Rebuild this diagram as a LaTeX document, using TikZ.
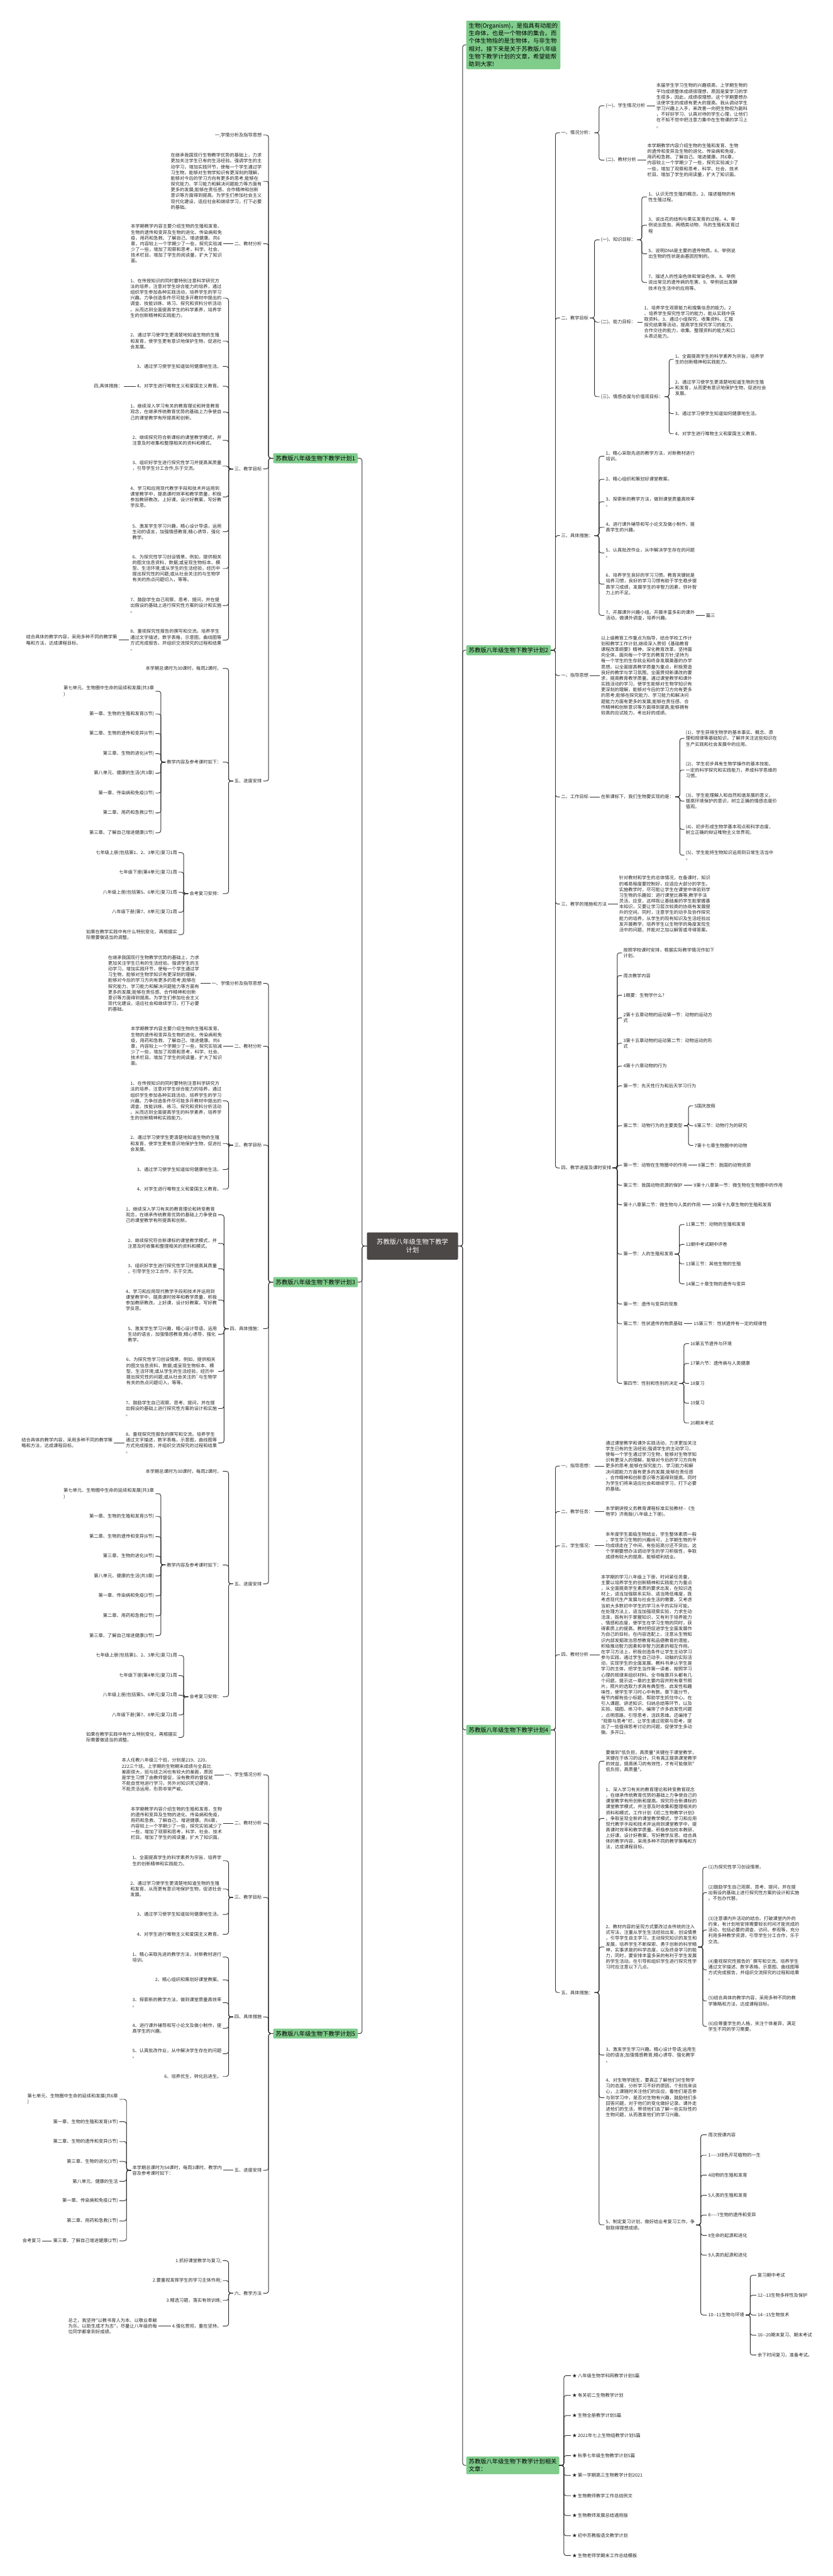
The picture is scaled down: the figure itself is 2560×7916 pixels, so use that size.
\documentclass[tikz,border=0pt]{standalone}
\usepackage{fontspec}
\newfontfamily\cjk{Noto Sans CJK SC}
\usetikzlibrary{positioning}

\definecolor{leafgreen}{RGB}{127,204,139}
\definecolor{rootgray}{RGB}{77,72,72}
\definecolor{inkgray}{RGB}{38,38,38}
\definecolor{linegray}{RGB}{51,51,51}

\tikzset{
    topic/.style = {
        rectangle,
        rounded corners=4pt,
        fill=leafgreen,
        text=black,
        font=\cjk\fontsize{18}{23.7}\selectfont,
        inner xsep=8pt,
        inner ysep=7pt,
        align=left,
        anchor=west
    },
    ltopic/.style = {
        topic,
        anchor=east
    },
    centre/.style = {
        rectangle,
        rounded corners=4pt,
        fill=rootgray,
        text=white,
        font=\cjk\fontsize{20}{25}\selectfont,
        align=center,
        minimum width=280pt,
        minimum height=84pt
    },
    ritem/.style = {
        font=\cjk\fontsize{14}{17.7}\selectfont,
        text=inkgray,
        inner xsep=4pt,
        inner ysep=1pt,
        align=left,
        anchor=west
    },
    litem/.style = {
        ritem,
        anchor=east
    },
    conn/.style = {
        draw=linegray,
        line width=1.8pt,
        rounded corners=7pt
    }
}

\begin{document}
\begin{tikzpicture}[x=1pt, y=-1pt]

\fill[white] (0,0) rectangle (2560,7916);
\useasboundingbox (0,0) rectangle (2560,7916);

\node[centre] (root) at (1268,3829) {苏教版八年级生物下教学\\计划};

% right side
\node[topic] (intro) at (1433,138) {生物(Organism)，是指具有动能的\\生命体，也是一个物体的集合。而\\个体生物指的是生物体，与非生物\\相对。接下来是关于苏教版八年级\\生物下教学计划的文章，希望能帮\\助到大家!};
\node[topic] (planB) at (1433,1998) {苏教版八年级生物下教学计划2};
\node[topic] (planD) at (1433,5316) {苏教版八年级生物下教学计划4};
\node[topic] (related) at (1433,7576) {苏教版八年级生物下教学计划相关\\文章：};

% plan 2
\node[ritem] (b1) at (1721,408) {一、情况分析：};
\node[ritem] (b1a) at (1858,325) {(一)、学生情况分析};
\node[ritem, right=26pt of b1a] (b1at) {本届学生学习生物的兴趣很高，上学期生物的\\平均成绩整体成绩很理想，原因是爱学习的学\\生很多，因此，成绩很理想。这个学期要想办\\法使学生的成绩有更大的提高。我从调动学生\\学习兴趣上入手，来改善一向把生物视为副科\\，不好好学习、认真对待的学生心理，让他们\\在不知不觉中把注意力集中在生物课的学习上\\。};
\node[ritem] (b1b) at (1858,492) {(二)、教材分析};
\node[ritem, right=26pt of b1b] (b1bt) {本学期教学内容介绍生物的生殖和发育、生物\\的遗传和变异及生物的进化、传染病和免疫，\\用药和急救、了解自己、增进健康。共6章，\\内容较上一个学期少了一些，探究实验减少了\\一些，增加了观察和思考，科学、社会、技术\\栏目。增加了学生的阅读量，扩大了知识面。};

\node[ritem] (b2) at (1721,977) {二、教学目标};
\node[ritem] (b2a) at (1843,737) {(一)、知识目标：};
\node[ritem] (b2a1) at (1989,605) {1、认识无性生殖的概念。2、描述植物的有\\性生殖过程。};
\node[ritem] (b2a2) at (1989,692) {3、说出花的结构与果实发育的过程。4、举\\例说出昆虫、两栖类动物、鸟的生殖和发育过\\程};
\node[ritem] (b2a3) at (1989,780) {5、说明DNA是主要的遗传物质。6、举例说\\出生物的性状是由基因控制的。};
\node[ritem] (b2a4) at (1989,868) {7、描述人的性染色体和常染色体。8、举例\\说出常见的遗传病的危害。9、举例说出发酵\\技术在生活中的应用等。};
\node[ritem] (b2b) at (1843,990) {(二)、能力目标：};
\node[ritem, right=17pt of b2b] (b2bt) {1、培养学生观察能力和搜集信息的能力。2\\、培养学生探究性学习的能力，能从实践中获\\取资料。3、通过小组探究、收集资料、汇报\\探究结果等活动，提高学生探究学习的能力，\\合作交往的能力，收集、整理资料的能力和口\\头表达能力。};
\node[ritem] (b2c) at (1843,1219) {(三)、情感态度与价值观目标：};
\node[ritem] (b2c1) at (2071,1104) {1、全面提高学生的科学素养为宗旨，培养学\\生的创新精神和实践能力。};
\node[ritem] (b2c2) at (2071,1192) {2、通过学习使学生更清楚地知道生物的生殖\\和发育，从而更有意识地保护生物，促进社会\\发展。};
\node[ritem] (b2c3) at (2071,1271) {3、通过学习使学生知道如何健康地生活。};
\node[ritem] (b2c4) at (2071,1333) {4、对学生进行唯物主义和爱国主义教育。};

\node[ritem] (b3) at (1721,1646) {三、具体措施：};
\node[ritem] (b3i1) at (1858,1402) {1、精心采取先进的教学方法，对新教材进行\\培训。};
\node[ritem] (b3i2) at (1858,1473) {2、精心组织和策划好课堂教案。};
\node[ritem] (b3i3) at (1858,1542) {3、探索新的教学方法，做到课堂质量高效率\\。};
\node[ritem] (b3i4) at (1858,1620) {4、进行课外辅导和写小论文及做小制作，提\\高学生的兴趣。};
\node[ritem] (b3i5) at (1858,1699) {5、认真批改作业，从中解决学生存在的问题\\。};
\node[ritem] (b3i6) at (1858,1795) {6、培养学生良好的学习习惯。教育关键就是\\培养习惯，良好的学习习惯有助于学生稳步提\\高学习成绩，发展学生的非智力因素，弥补智\\力上的不足。};
\node[ritem] (b3i7) at (1858,1891) {7、开展课外兴趣小组。开展丰富多彩的课外\\活动，做课外调查，培养兴趣。};
\node[ritem, right=26pt of b3i7] (b3x) {篇三};

\node[ritem] (b4) at (1721,2076) {一、指导思想};
\node[ritem, right=30pt of b4] (b4t) {以上级教育工作重点为指导，结合学校工作计\\划和教学工作计划,继续深入贯彻《基础教育\\课程改革纲要》精神，深化教育改革，坚持面\\向全体，面向每一个学生的教育方针;坚持为\\每一个学生的生存就业和终身发展奠基的办学\\思想。以全面提高教学质量为重点，积极营造\\良好的教学与学习氛围，全面贯彻新课改的要\\求，提高教育教学质量。通过课堂教学和课外\\实践活动的学习，使学生能够对生物学知识有\\更深刻的理解，能够对今后的学习方向有更多\\的思考;能够在探究能力、学习能力和解决问\\题能力方面有更多的发展;能够在责任感、合\\作精神和创新意识等方面得到提高;能够拥有\\较高的应试能力，考出好的成绩。};

\node[ritem] (b5) at (1721,2449) {二、工作目标};
\node[ritem, right=30pt of b5] (b5a) {在新课标下，我们生物要实现的是：};
\node[ritem] (b5a1) at (2104,2269) {(1)、学生获得生物学的基本事实、概念、原\\理和规律等基础知识，了解并关注这些知识在\\生产实践和社会发展中的应用。};
\node[ritem] (b5a2) at (2104,2366) {(2)、学生初步具有生物学操作的基本技能、\\一定的科学探究和实践能力，养成科学思维的\\习惯。};
\node[ritem] (b5a3) at (2104,2462) {(3)、学生能理解人和自然和谐发展的意义，\\提高环境保护的意识，树立正确的情感态度价\\值观。};
\node[ritem] (b5a4) at (2104,2549) {(4)、初步形成生物学基本观点和科学态度，\\树立正确的辩证唯物主义世界观。};
\node[ritem] (b5a5) at (2104,2628) {(5)、学生能将生物知识运用到日常生活当中\\。};

\node[ritem] (b6) at (1721,2778) {三、教学的措施和方法};
\node[ritem, right=30pt of b6] (b6t) {针对教材和学生的总体情况，在备课时，知识\\的难易程度要控制好，应适应大部分的学生。\\实施教学时，尽可能让学生在课堂中体验到学\\习生物的乐趣如：进行课堂比赛等;教学手法\\灵活、应变，这样既让基础差的学生能掌握基\\本知识，又要让学习层次较高的协商有发展提\\升的空间。同时，注意学生的动手及协作探究\\能力的培养，从学生的现有知识及生活经验出\\发开展教学，培养学生以生物学的角度发现生\\活中的问题，并能对之加以解答或寻得答案。};

\node[ritem] (b7) at (1721,3589) {四、教学进度及课时安排};
\node[ritem] (b7i1) at (1912,2928) {按照学校课时安排，根据实际教学情况作如下\\计划。};
\node[ritem] (b7i2) at (1912,2998) {周次教学内容};
\node[ritem] (b7i3) at (1912,3058) {1概要：生物学什么?};
\node[ritem] (b7i4) at (1912,3128) {2第十五章动物的运动第一节：动物的运动方\\式};
\node[ritem] (b7i5) at (1912,3206) {3第十五章动物的运动第二节：动物运动的形\\式};
\node[ritem] (b7i6) at (1912,3276) {4第十六章动物的行为};
\node[ritem] (b7i7) at (1912,3337) {第一节：先天性行为和后天学习行为};
\node[ritem] (b7i8) at (1912,3459) {第二节：动物行为的主要类型};
\node[ritem] (b7s1) at (2131,3398) {5国庆放假};
\node[ritem] (b7s2) at (2131,3459) {6第三节：动物行为的研究};
\node[ritem] (b7s3) at (2131,3520) {7第十七章生物圈中的动物};
\node[ritem] (b7i9) at (1912,3581) {第一节：动物在生物圈中的作用};
\node[ritem, right=26pt of b7i9] (b7i9t) {8第二节：我国的动物资源};
\node[ritem] (b7i10) at (1912,3642) {第三节：我国动物资源的保护};
\node[ritem, right=26pt of b7i10] (b7i10t) {9第十八章第一节：微生物在生物圈中的作用};
\node[ritem] (b7i11) at (1912,3702) {第十八章第二节：微生物与人类的作用};
\node[ritem, right=26pt of b7i11] (b7i11t) {10第十九章生物的生殖和发育};
\node[ritem] (b7i12) at (1912,3854) {第一节：人的生殖和发育};
\node[ritem] (b7u1) at (2104,3763) {11第二节：动物的生殖和发育};
\node[ritem] (b7u2) at (2104,3824) {12期中考试期中评卷};
\node[ritem] (b7u3) at (2104,3884) {13第三节：其他生物的生殖};
\node[ritem] (b7u4) at (2104,3945) {14第二十章生物的遗传与变异};
\node[ritem] (b7i13) at (1912,4007) {第一节：遗传与变异的现象};
\node[ritem] (b7i14) at (1912,4068) {第二节：性状遗传的物质基础};
\node[ritem, right=26pt of b7i14] (b7i14t) {15第三节：性状遗传有一定的规律性};
\node[ritem] (b7i15) at (1912,4251) {第四节：性别和性别的决定};
\node[ritem] (b7v1) at (2118,4129) {16第五节遗传与环境};
\node[ritem] (b7v2) at (2118,4190) {17第六节：遗传病与人类健康};
\node[ritem] (b7v3) at (2118,4251) {18复习};
\node[ritem] (b7v4) at (2118,4312) {19复习};
\node[ritem] (b7v5) at (2118,4373) {20期末考试};

% plan 4
\node[ritem] (d1) at (1721,4505) {一、指导思想：};
\node[ritem, right=30pt of d1] (d1t) {通过课堂教学和课外实践活动，力求更加关注\\学生已有的生活经验;强调学生的主动学习，\\使每一个学生通过学习生物，能够对生物学知\\识有更深入的理解，能够对今后的学习方向有\\更多的思考;能够在探究能力、学习能力和解\\决问题能力方面有更多的发展;能够在责任感\\、合作精神和创新意识等方面得到提高。同时\\为学生们将来适应社会和继续学习，打下必要\\的基础。};
\node[ritem] (d2) at (1721,4645) {二、教学任务：};
\node[ritem, right=30pt of d2] (d2t) {本学期讲授义务教育课程标准实验教材--《生\\物学》济南版(八年级上下册)。};
\node[ritem] (d3) at (1721,4750) {三、学生情况：};
\node[ritem, right=30pt of d3] (d3t) {本年度学生面临生物结业，学生整体素质一般\\，学生学习生物的兴趣尚可，上学期生物的平\\均成绩走在了中间，有些班高分还不突出。这\\个学期要想办法调动学生的学习积极性，争取\\成绩有较大的提高，能够顺利结业。};
\node[ritem] (d4) at (1721,5085) {四、教材分析};
\node[ritem, right=30pt of d4] (d4t) {本学期的学习八年级上下册，时间紧任务重，\\主要以培养学生的创新精神和实践能力为重点\\，从全面提高学生素质的要求出发，在知识选\\材上，适当加强联系实际、适当降低难度，既\\考虑现代生产发展与社会生活的需要，又考虑\\当前大多数初中学生的学习水平的实际可能。\\在处理方法上，适当加强观察实验，力求生动\\活泼，既有利于掌握知识，又有利于培养能力\\、情感和态度，使学生在学习生物的同时，获\\得素质上的提高。教材把促进学生全面发展作\\为自己的目标。在内容选配上，注意从生物知\\识内部发掘政治思想教育和品德教育的潜能，\\积极推动智力因素和非智力因素的相互作用。\\在学习方法上，积极创造条件让学生主动学习\\参与实践，通过学生自己动手、动脑的实际活\\动，实现学生的全面发展。教科书承认学生是\\学习的主体，把学生当作第一读者，按照学习\\心理的规律来组织材料。全书每章开头都有几\\个问题，提示这一章的主要内容并附有章节照\\片，照片的选取力求具有典型性、启发性和趣\\味性，使学生学习时心中有数。章下面分节，\\每节内都有些小标题，帮助学生抓住中心。在\\引入课题、讲述知识、归纳总结等环节，以及\\实验、插图、练习中，编排了许多启发性问题\\，点明思路，引导思考，活跃思维。还编排了\\"观察与思考"栏，让学生通过观察与思考，提\\出了一些值得思考讨论的问题，促使学生多动\\脑、多开口。};

\node[ritem] (d5) at (1721,6123) {五、具体措施：};
\node[ritem] (d5i1) at (1858,5412) {要做到"低负担，高质量"关键在于课堂教学，\\关键在于练习的设计。只有真正提高课堂教学\\的效益，提高练习的有效性，才有可能做到"\\低负担，高质量"。};
\node[ritem] (d5i2) at (1858,5588) {1、深入学习有关的教育理论和转变教育观念\\，在继承传统教育优势的基础上力争使自己的\\课堂教学有所创新和提高。探究符合新课标的\\课堂教学模式，并注意及时收集和整理相关的\\资料和模式，工作计划《初二生物教学计划》\\。争取呈现全新的课堂教学模式，学习和应用\\现代教学手段和技术并运用到课堂教学中，提\\高课时效率和教学质量。积极参加校本教研，\\上好课，设计好教案，写好教学反思。结合具\\体的教学内容，采用多种不同的教学策略和方\\法，达成课程目标。};
\node[ritem] (d5i3) at (1858,5983) {2、教材内容的呈现方式要改过去传统的注入\\式写法，注重从学生生活经验出发，创设情景\\，引导学生自主学习，主动探究知识的发生和\\发展，培养学生不断探索、勇于创新的科学精\\神，实事求是的科学态度，以及终身学习的能\\力，同时，要安排丰富多采的有利于学生发展\\的学生活动。在引导和组织学生进行探究性学\\习时应注意以下几点。};
\node[ritem] (d5s1) at (2173,5738) {(1)为探究性学习创设情景。};
\node[ritem] (d5s2) at (2173,5816) {(2)鼓励学生自己观察、思考、提问，并在提\\出假设的基础上进行探究性方案的设计和实施\\。不包办代替。};
\node[ritem] (d5s3) at (2173,5931) {(3)注意课内外活动的结合。打破课堂内外的\\约束，有计划地安排需要较长时间才能完成的\\活动，包括必要的调查、访问、参观等，充分\\利用多种教学资源，引导学生分工合作，乐于\\交流。};
\node[ritem] (d5s4) at (2173,6053) {(4)重视探究性报告的`撰写和交流。培养学生\\通过文字描述、数字表格、示意图、曲线图等\\方式完成报告，并组织交流探究的过程和结果\\。};
\node[ritem] (d5s5) at (2173,6149) {(5)结合具体的教学内容，采用多种不同的教\\学策略和方法，达成课程目标。};
\node[ritem] (d5s6) at (2173,6227) {(6)应尊重学生的人格，关注个体差异，满足\\学生不同的学习需要。};
\node[ritem] (d5i4) at (1858,6315) {3、激发学生学习兴趣。精心设计导语;运用生\\动的语言;加强情感教育;精心诱导、强化教学\\。};
\node[ritem] (d5i5) at (1858,6446) {4、对生物学困生，要真正了解他们对生物学\\习的态度，分析学习不好的原因，个别找来谈\\心，上课随时关注他们的反应，看他们是否参\\与到学习中，是否对生物有兴趣，鼓励他们多\\回答问题，对于他们的变化做好记录。课外走\\进他们的生活，带领他们去了解一些实际性的\\生物问题，从而激发他们的学习兴趣。};
\node[ritem] (d5i6) at (1858,6837) {5、制定复习计划，做好结业考复习工作，争\\取取得理想成绩。};
\node[ritem] (d5w1) at (2173,6560) {周次授课内容};
\node[ritem] (d5w2) at (2173,6623) {1----3绿色开花植物的一生};
\node[ritem] (d5w3) at (2173,6684) {4动物的生殖和发育};
\node[ritem] (d5w4) at (2173,6746) {5人类的生殖和发育};
\node[ritem] (d5w5) at (2173,6807) {6----7生物的遗传和变异};
\node[ritem] (d5w6) at (2173,6869) {8生命的起源和进化};
\node[ritem] (d5w7) at (2173,6930) {9人类的起源和进化};
\node[ritem] (d5w8) at (2173,7114) {10--11生物与环境};
\node[ritem] (d5x1) at (2325,6992) {复习期中考试};
\node[ritem] (d5x2) at (2325,7053) {12--13生物多样性及保护};
\node[ritem] (d5x3) at (2325,7114) {14--15生物技术};
\node[ritem] (d5x4) at (2325,7176) {16--20期末复习、期末考试};
\node[ritem] (d5x5) at (2325,7237) {余下时间复习，准备考试。};

% related articles
\node[ritem] (r1) at (1755,7300) {★ 八年级生物学科网教学计划5篇};
\node[ritem] (r2) at (1755,7361) {★ 有关初二生物教学计划};
\node[ritem] (r3) at (1755,7423) {★ 生物全册教学计划5篇};
\node[ritem] (r4) at (1755,7484) {★ 2021年七上生物组教学计划5篇};
\node[ritem] (r5) at (1755,7546) {★ 秋季七年级生物教学计划5篇};
\node[ritem] (r6) at (1755,7607) {★ 第一学期高三生物教学计划2021};
\node[ritem] (r7) at (1755,7669) {★ 生物教师教学工作总结例文};
\node[ritem] (r8) at (1755,7730) {★ 生物教师发展总结通用版};
\node[ritem] (r9) at (1755,7792) {★ 初中苏教版语文教学计划};
\node[ritem] (r10) at (1755,7853) {★ 生物老师学期末工作总结模板};

% left side
\node[ltopic] (planA) at (1100,1408) {苏教版八年级生物下教学计划1};
\node[ltopic] (planC) at (1100,3940) {苏教版八年级生物下教学计划3};
\node[ltopic] (planE) at (1100,6249) {苏教版八年级生物下教学计划5};

% plan 1
\node[litem] (a1) at (809,415) {一,学情分析及指导思想};
\node[litem] (a2) at (809,557) {在继承我国现行生物教学优势的基础上，力求\\更加关注学生已有的生活经验。强调学生的主\\动学习，增加实践环节，使每一个学生通过学\\习生物，能够对生物学知识有更深刻的理解，\\能够对今后的学习方向有更多的思考;能够在\\探究能力、学习能力和解决问题能力等方面有\\更多的发展;能够在责任感、合作精神和创新\\意识等方面得到提高。为学生们参加社会主义\\现代化建设，适应社会和继续学习，打下必要\\的基础。};
\node[litem] (a3) at (809,749) {二、教材分析};
\node[litem, left=30pt of a3] (a3t) {本学期教学内容主要介绍生物的生殖和发育、\\生物的遗传和变异及生物的进化、传染病和免\\疫，用药和急救、了解自己、增进健康。共6\\章，内容较上一个学期少了一些，探究实验减\\少了一些，增加了观察和思考，科学、社会、\\技术栏目。增加了学生的阅读量，扩大了知识\\面。};
\node[litem] (a4) at (809,1441) {三、教学目标};
\node[litem] (a4i1) at (685,916) {1、在传授知识的同时要特别注意科学研究方\\法的培养，注意对学生综合能力的培养，通过\\组织学生参加各种实践活动，培养学生的学习\\兴趣。力争创造条件尽可能多开教材中提出的\\调查、技能训练、练习、探究和资料分析活动\\。从而达到全面提高学生的科学素养，培养学\\生的创新精神和实践能力。};
\node[litem] (a4i2) at (685,1048) {2、通过学习使学生更清楚地知道生物的生殖\\和发育，使学生更有意识地保护生物，促进社\\会发展。};
\node[litem] (a4i3) at (685,1126) {3、通过学习使学生知道如何健康地生活。};
\node[litem] (a4i4) at (685,1187) {4、对学生进行唯物主义和爱国主义教育。};
\node[litem, left=36pt of a4i4] (a4x) {四,具体措施：};
\node[litem] (a4i5) at (685,1266) {1、继续深入学习有关的教育理论和转变教育\\观念，在继承传统教育优势的基础上力争使自\\己的课堂教学有所提高和创新。};
\node[litem] (a4i6) at (685,1353) {2、继续探究符合新课标的课堂教学模式，并\\注意及时收集和整理相关的资料和模式。};
\node[litem] (a4i7) at (685,1432) {3、组织好学生进行探究性学习并提高其质量\\，引导学生分工合作,乐于交流。};
\node[litem] (a4i8) at (685,1527) {4、学习和应用现代教学手段和技术并运用到\\课堂教学中，提高课时效率和教学质量，积极\\参加教研教改。上好课，设计好教案，写好教\\学反思。};
\node[litem] (a4i9) at (685,1634) {5、激发学生学习兴趣，精心设计导语，运用\\生动的语言，加强情感教育;精心诱导，强化\\教学。};
\node[litem] (a4i10) at (685,1747) {6、为探究性学习创设情景。例如，提供相关\\的图文信息资料，数据;或呈现生物标本、模\\型、生活环境;或从学生的生活经验，经历中\\提出探究性的问题;或从社会关注的与生物学\\有关的热点问题切入，等等。};
\node[litem] (a4i11) at (685,1861) {7、鼓励学生自己观察、思考、提问，并在提\\出假设的基础上进行探究性方案的设计和实施\\。};
\node[litem] (a4i12) at (685,1967) {8、重视探究性报告的撰写和交流。培养学生\\通过文字描述，数字表格，示意图，曲线图等\\方式完成报告，并组织交流探究的过程和结果\\。};
\node[litem, left=32pt of a4i12] (a4y) {结合具体的教学内容，采用多种不同的教学策\\略和方法，达成课程目标。};
\node[litem] (a5) at (809,2400) {五、进度安排};
\node[litem] (a5a) at (685,2054) {本学期总课时为30课时，每周2课时。};
\node[litem] (a5b) at (685,2342) {教学内容及参考课时如下：};
\node[litem] (a5b1) at (478,2124) {第七单元、生物圈中生命的延续和发展(共3章\\)};
\node[litem] (a5b2) at (478,2194) {第一章、生物的生殖和发育(5节)};
\node[litem] (a5b3) at (478,2254) {第二章、生物的遗传和变异(6节)};
\node[litem] (a5b4) at (478,2316) {第三章、生物的进化(4节)};
\node[litem] (a5b5) at (478,2376) {第八单元、健康的生活(共3章)};
\node[litem] (a5b6) at (478,2437) {第一章、传染病和免疫(3节)};
\node[litem] (a5b7) at (478,2498) {第二章、用药和急救(2节)};
\node[litem] (a5b8) at (478,2559) {第三章、了解自己增进健康(3节)};
\node[litem] (a5c) at (685,2746) {会考复习安排：};
\node[litem] (a5c1) at (549,2620) {七年级上册(包括第1、2、3单元)复习1周};
\node[litem] (a5c2) at (549,2680) {七年级下册(第4单元)复习1周};
\node[litem] (a5c3) at (549,2742) {八年级上册(包括第5、6单元)复习1周};
\node[litem] (a5c4) at (549,2803) {八年级下册(第7、8单元)复习1周};
\node[litem] (a5c5) at (549,2872) {如果在教学实践中有什么特别变化，再根据实\\际需要做适当的调整。};

% plan 3
\node[litem] (c1) at (809,3022) {一、学情分析及指导思想};
\node[litem, left=30pt of c1] (c1t) {在继承我国现行生物教学优势的基础上，力求\\更加关注学生已有的生活经验。强调学生的主\\动学习，增加实践环节，使每一个学生通过学\\习生物，能够对生物学知识有更深刻的理解，\\能够对今后的学习方向有更多的思考;能够在\\探究能力、学习能力和解决问题能力等方面有\\更多的发展;能够在责任感、合作精神和创新\\意识等方面得到提高。为学生们参加社会主义\\现代化建设，适应社会和继续学习，打下必要\\的基础。};
\node[litem] (c2) at (809,3215) {二、教材分析};
\node[litem, left=30pt of c2] (c2t) {本学期教学内容主要介绍生物的生殖和发育、\\生物的遗传和变异及生物的进化、传染病和免\\疫，用药和急救、了解自己、增进健康。共6\\章，内容较上一个学期少了一些，探究实验减\\少了一些，增加了观察和思考，科学、社会、\\技术栏目。增加了学生的阅读量，扩大了知识\\面。};
\node[litem] (c3) at (809,3519) {三、教学目标};
\node[litem] (c3i1) at (685,3383) {1、在传授知识的同时要特别注意科学研究方\\法的培养，注意对学生综合能力的培养，通过\\组织学生参加各种实践活动，培养学生的学习\\兴趣。力争创造条件尽可能多开教材中提出的\\调查、技能训练、练习、探究和资料分析活动\\。从而达到全面提高学生的科学素养，培养学\\生的创新精神和实践能力。};
\node[litem] (c3i2) at (685,3514) {2、通过学习使学生更清楚地知道生物的生殖\\和发育，使学生更有意识地保护生物，促进社\\会发展。};
\node[litem] (c3i3) at (685,3594) {3、通过学习使学生知道如何健康地生活。};
\node[litem] (c3i4) at (685,3654) {4、对学生进行唯物主义和爱国主义教育。};
\node[litem] (c4) at (809,4083) {四、具体措施：};
\node[litem] (c4i1) at (671,3733) {1、继续深入学习有关的教育理论和转变教育\\观念，在继承传统教育优势的基础上力争使自\\己的课堂教学有所提高和创新。};
\node[litem] (c4i2) at (671,3821) {2、继续探究符合新课标的课堂教学模式，并\\注意及时收集和整理相关的资料和模式。};
\node[litem] (c4i3) at (671,3899) {3、组织好学生进行探究性学习并提高其质量\\，引导学生分工合作，乐于交流。};
\node[litem] (c4i4) at (671,3995) {4、学习和应用现代教学手段和技术并运用到\\课堂教学中，提高课时效率和教学质量，积极\\参加教研教改。上好课，设计好教案，写好教\\学反思。};
\node[litem] (c4i5) at (671,4100) {5、激发学生学习兴趣，精心设计导语，运用\\生动的语言，加强情感教育;精心诱导，强化\\教学。};
\node[litem] (c4i6) at (671,4214) {6、为探究性学习创设情景。例如，提供相关\\的图文信息资料，数据;或呈现生物标本、模\\型、生活环境;或从学生的生活经验，经历中\\提出探究性的问题;或从社会关注的`与生物学\\有关的热点问题切入，等等。};
\node[litem] (c4i7) at (671,4328) {7、鼓励学生自己观察、思考、提问，并在提\\出假设的基础上进行探究性方案的设计和实施\\。};
\node[litem] (c4i8) at (671,4434) {8、重视探究性报告的撰写和交流。培养学生\\通过文字描述，数字表格，示意图，曲线图等\\方式完成报告，并组织交流探究的过程和结果\\。};
\node[litem, left=32pt of c4i8] (c4y) {结合具体的教学内容，采用多种不同的教学策\\略和方法，达成课程目标。};
\node[litem] (c5) at (809,4867) {五、进度安排};
\node[litem] (c5a) at (685,4521) {本学期总课时为30课时，每周2课时。};
\node[litem] (c5b) at (685,4809) {教学内容及参考课时如下：};
\node[litem] (c5b1) at (478,4590) {第七单元、生物圈中生命的延续和发展(共3章\\)};
\node[litem] (c5b2) at (478,4660) {第一章、生物的生殖和发育(5节)};
\node[litem] (c5b3) at (478,4722) {第二章、生物的遗传和变异(6节)};
\node[litem] (c5b4) at (478,4782) {第三章、生物的进化(4节)};
\node[litem] (c5b5) at (478,4843) {第八单元、健康的生活(共3章)};
\node[litem] (c5b6) at (478,4904) {第一章、传染病和免疫(3节)};
\node[litem] (c5b7) at (478,4965) {第二章、用药和急救(2节)};
\node[litem] (c5b8) at (478,5026) {第三章、了解自己增进健康(3节)};
\node[litem] (c5c) at (685,5214) {会考复习安排：};
\node[litem] (c5c1) at (549,5087) {七年级上册(包括第1、2、3单元)复习1周};
\node[litem] (c5c2) at (549,5149) {七年级下册(第4单元)复习1周};
\node[litem] (c5c3) at (549,5209) {八年级上册(包括第5、6单元)复习1周};
\node[litem] (c5c4) at (549,5270) {八年级下册(第7、8单元)复习1周};
\node[litem] (c5c5) at (549,5339) {如果在教学实践中有什么特别变化，再根据实\\际需要做适当的调整。};

% plan 5
\node[litem] (e1) at (809,5454) {一、学生情况分析};
\node[litem, left=30pt of e1] (e1t) {本人任教八年级三个班，分别是219、220、\\222三个班。上学期的生物期末成绩与全县比\\差距很大，班与班之间也有较大的差距，原因\\是学生习惯了由教师督促，没有教师的督促就\\不能自觉地进行学习，另外对知识死记硬背，\\不能灵活运用，形势非常严峻。};
\node[litem] (e2) at (809,5603) {二、教材分析};
\node[litem, left=30pt of e2] (e2t) {本学期教学内容介绍生物的生殖和发育、生物\\的遗传和变异及生物的进化、传染病和免疫，\\用药和急救、了解自己、增进健康。共6章，\\内容较上一个学期少了一些，探究实验减少了\\一些，增加了观察和思考，科学、社会、技术\\栏目。增加了学生的阅读量，扩大了知识面。};
\node[litem] (e3) at (809,5831) {三、教学目标};
\node[litem] (e3i1) at (685,5718) {1、全面提高学生的科学素养为宗旨，培养学\\生的创新精神和实践能力。};
\node[litem] (e3i2) at (685,5805) {2、通过学习使学生更清楚地知道生物的生殖\\和发育，从而更有意识地保护生物，促进社会\\发展。};
\node[litem] (e3i3) at (685,5883) {3、通过学习使学生知道如何健康地生活。};
\node[litem] (e3i4) at (685,5944) {4、对学生进行唯物主义和爱国主义教育。};
\node[litem] (e4) at (809,6198) {四、具体措施};
\node[litem] (e4i1) at (685,6014) {1、精心采取先进的教学方法，对新教材进行\\培训。};
\node[litem] (e4i2) at (685,6084) {2、精心组织和策划好课堂教案。};
\node[litem] (e4i3) at (685,6154) {3、探索新的教学方法，做到课堂质量高效率\\。};
\node[litem] (e4i4) at (685,6233) {4、进行课外辅导和写小论文及做小制作，提\\高学生的兴趣。};
\node[litem] (e4i5) at (685,6311) {5、认真批改作业，从中解决学生存在的问题\\。};
\node[litem] (e4i6) at (685,6381) {6、培养优生，转化后进生。};
\node[litem] (e5) at (809,6669) {五、进度安排};
\node[litem, left=30pt of e5] (e5t) {本学期总课时为54课时，每周3课时。教学内\\容及参考课时如下：};
\node[litem] (e5t1) at (367,6451) {第七单元、生物圈中生命的延续和发展(共6章\\)};
\node[litem] (e5t2) at (367,6520) {第一章、生物的生殖和发育(4节)};
\node[litem] (e5t3) at (367,6581) {第二章、生物的遗传和变异(5节)};
\node[litem] (e5t4) at (367,6642) {第三章、生物的进化(3节)};
\node[litem] (e5t5) at (367,6703) {第八单元、健康的生活};
\node[litem] (e5t6) at (367,6763) {第一章、传染病和免疫(2节)};
\node[litem] (e5t7) at (367,6825) {第二章、用药和急救(1节)};
\node[litem] (e5t8) at (367,6886) {第三章、了解自己增进健康(2节)};
\node[litem, left=30pt of e5t8] (e5x) {会考复习};
\node[litem] (e6) at (809,7047) {六、教学方法};
\node[litem] (e6i1) at (685,6947) {1.抓好课堂教学与复习;};
\node[litem] (e6i2) at (685,7008) {2.要重视发挥学生的学习主体作用;};
\node[litem] (e6i3) at (685,7069) {3.精选习题，落实有效训练;};
\node[litem] (e6i4) at (685,7148) {4.强化贯彻，重在坚持。};
\node[litem, left=38pt of e6i4] (e6y) {总之，我坚持"以教书育人为本、以敬业奉献\\为乐、以助生成才为志"，尽量让八年级的每\\位同学都拿到好成绩。};

% Connectors
\foreach \n in {intro,planB,planD,related} \draw[conn] (root.east) -- ++(14,0) |- (\n.west);
\foreach \n in {planA,planC,planE} \draw[conn] (root.west) -- ++(-15,0) |- (\n.east);

\foreach \n in {b1,b2,b3,b4,b5,b6,b7} \draw[conn] (planB.east) -- ++(14,0) |- (\n.west);
\foreach \n in {b1a,b1b} \draw[conn] (b1.east) -- ++(14,0) |- (\n.west);
\draw[conn] (b1a.east) -- (b1at.west);
\draw[conn] (b1b.east) -- (b1bt.west);
\foreach \n in {b2a,b2b,b2c} \draw[conn] (b2.east) -- ++(14,0) |- (\n.west);
\foreach \k in {1,...,4} \draw[conn] (b2a.east) -- ++(14,0) |- (b2a\k.west);
\draw[conn] (b2b.east) -- (b2bt.west);
\foreach \k in {1,...,4} \draw[conn] (b2c.east) -- ++(14,0) |- (b2c\k.west);
\foreach \k in {1,...,7} \draw[conn] (b3.east) -- ++(14,0) |- (b3i\k.west);
\draw[conn] (b3i7.east) -- (b3x.west);
\draw[conn] (b4.east) -- (b4t.west);
\draw[conn] (b5.east) -- (b5a.west);
\foreach \k in {1,...,5} \draw[conn] (b5a.east) -- ++(14,0) |- (b5a\k.west);
\draw[conn] (b6.east) -- (b6t.west);
\foreach \k in {1,...,15} \draw[conn] (b7.east) -- ++(14,0) |- (b7i\k.west);
\foreach \k in {1,...,3} \draw[conn] (b7i8.east) -- ++(14,0) |- (b7s\k.west);
\draw[conn] (b7i9.east) -- (b7i9t.west);
\draw[conn] (b7i10.east) -- (b7i10t.west);
\draw[conn] (b7i11.east) -- (b7i11t.west);
\foreach \k in {1,...,4} \draw[conn] (b7i12.east) -- ++(14,0) |- (b7u\k.west);
\draw[conn] (b7i14.east) -- (b7i14t.west);
\foreach \k in {1,...,5} \draw[conn] (b7i15.east) -- ++(14,0) |- (b7v\k.west);

\foreach \k in {1,...,5} \draw[conn] (planD.east) -- ++(14,0) |- (d\k.west);
\draw[conn] (d1.east) -- (d1t.west);
\draw[conn] (d2.east) -- (d2t.west);
\draw[conn] (d3.east) -- (d3t.west);
\draw[conn] (d4.east) -- (d4t.west);
\foreach \k in {1,...,6} \draw[conn] (d5.east) -- ++(14,0) |- (d5i\k.west);
\foreach \k in {1,...,6} \draw[conn] (d5i3.east) -- ++(14,0) |- (d5s\k.west);
\foreach \k in {1,...,8} \draw[conn] (d5i6.east) -- ++(14,0) |- (d5w\k.west);
\foreach \k in {1,...,5} \draw[conn] (d5w8.east) -- ++(14,0) |- (d5x\k.west);
\foreach \k in {1,...,10} \draw[conn] (related.east) -- ++(14,0) |- (r\k.west);

\foreach \k in {1,...,5} \draw[conn] (planA.west) -- ++(-14,0) |- (a\k.east);
\draw[conn] (a3.west) -- (a3t.east);
\foreach \k in {1,...,12} \draw[conn] (a4.west) -- ++(-14,0) |- (a4i\k.east);
\draw[conn] (a4i4.west) -- (a4x.east);
\draw[conn] (a4i12.west) -- (a4y.east);
\foreach \n in {a5a,a5b,a5c} \draw[conn] (a5.west) -- ++(-14,0) |- (\n.east);
\foreach \k in {1,...,8} \draw[conn] (a5b.west) -- ++(-14,0) |- (a5b\k.east);
\foreach \k in {1,...,5} \draw[conn] (a5c.west) -- ++(-14,0) |- (a5c\k.east);

\foreach \k in {1,...,5} \draw[conn] (planC.west) -- ++(-14,0) |- (c\k.east);
\draw[conn] (c1.west) -- (c1t.east);
\draw[conn] (c2.west) -- (c2t.east);
\foreach \k in {1,...,4} \draw[conn] (c3.west) -- ++(-14,0) |- (c3i\k.east);
\foreach \k in {1,...,8} \draw[conn] (c4.west) -- ++(-14,0) |- (c4i\k.east);
\draw[conn] (c4i8.west) -- (c4y.east);
\foreach \n in {c5a,c5b,c5c} \draw[conn] (c5.west) -- ++(-14,0) |- (\n.east);
\foreach \k in {1,...,8} \draw[conn] (c5b.west) -- ++(-14,0) |- (c5b\k.east);
\foreach \k in {1,...,5} \draw[conn] (c5c.west) -- ++(-14,0) |- (c5c\k.east);

\foreach \k in {1,...,6} \draw[conn] (planE.west) -- ++(-14,0) |- (e\k.east);
\draw[conn] (e1.west) -- (e1t.east);
\draw[conn] (e2.west) -- (e2t.east);
\foreach \k in {1,...,4} \draw[conn] (e3.west) -- ++(-14,0) |- (e3i\k.east);
\foreach \k in {1,...,6} \draw[conn] (e4.west) -- ++(-14,0) |- (e4i\k.east);
\draw[conn] (e5.west) -- (e5t.east);
\foreach \k in {1,...,8} \draw[conn] (e5t.west) -- ++(-14,0) |- (e5t\k.east);
\draw[conn] (e5t8.west) -- (e5x.east);
\foreach \k in {1,...,4} \draw[conn] (e6.west) -- ++(-14,0) |- (e6i\k.east);
\draw[conn] (e6i4.west) -- (e6y.east);

\end{tikzpicture}
\end{document}
